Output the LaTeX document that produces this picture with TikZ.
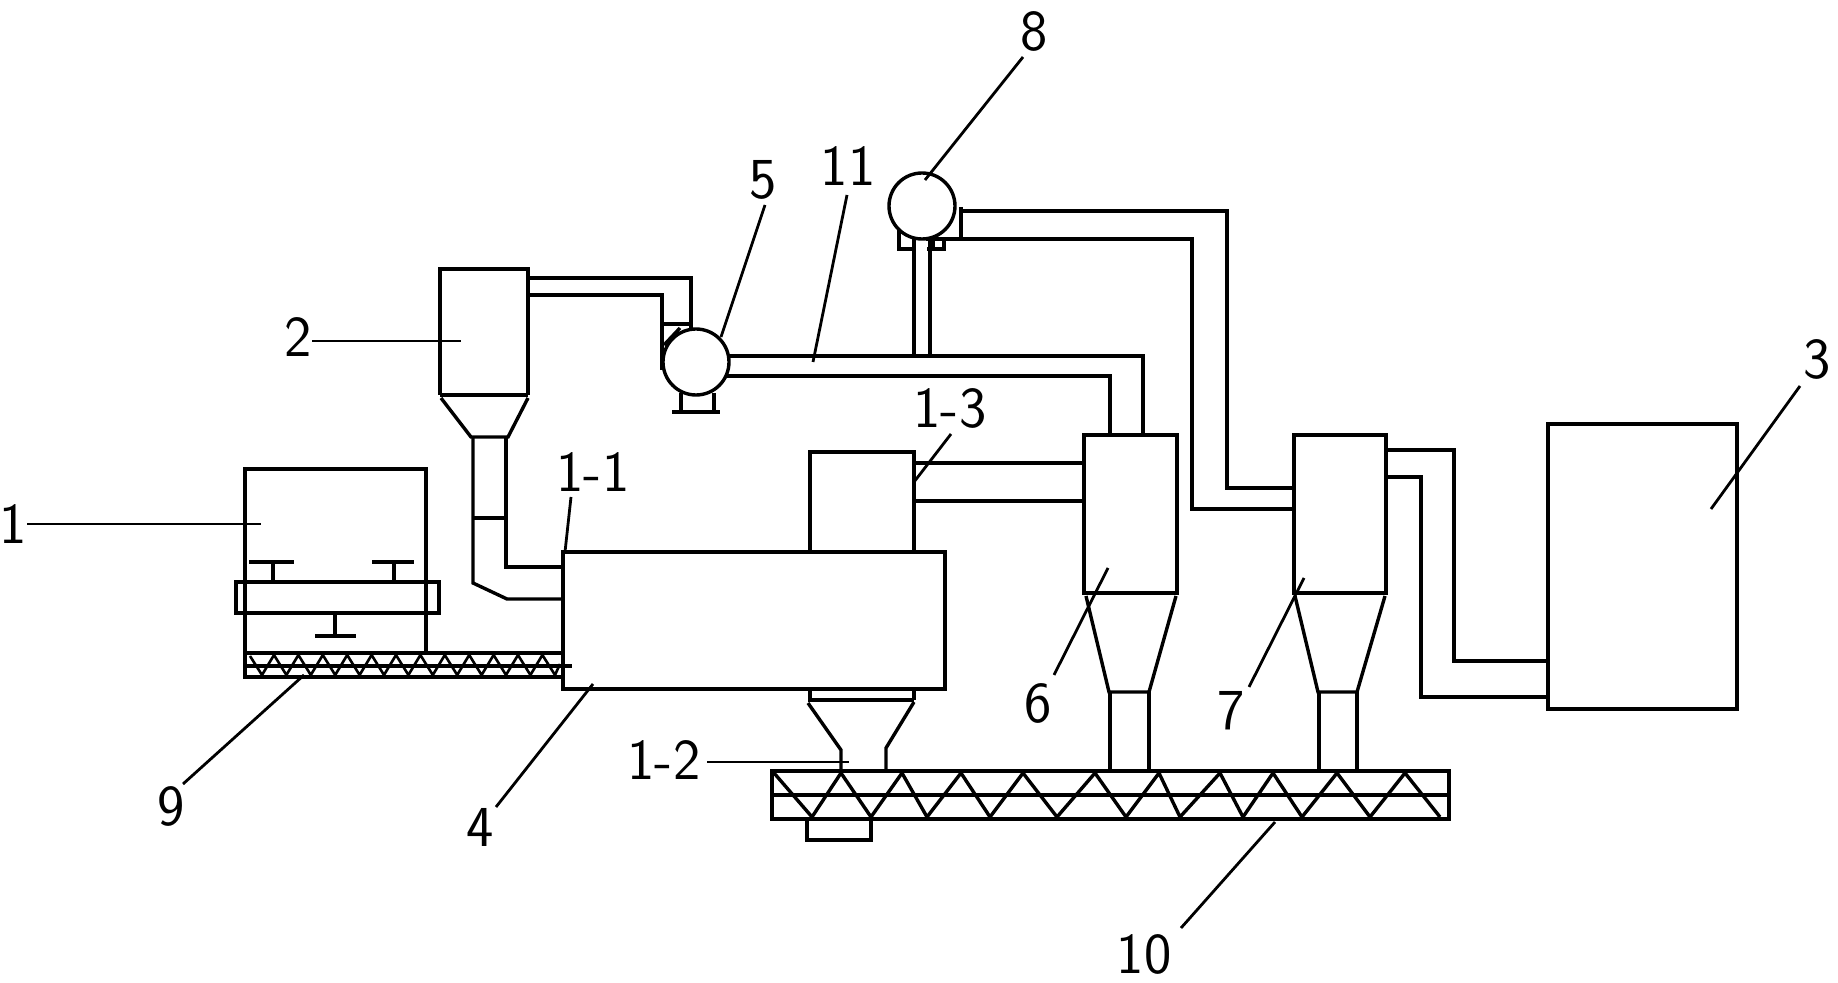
\documentclass[tikz,border=0pt]{standalone}
\usepackage{fontspec}
\tikzset{
  part/.style={draw=black,line width=1.7pt,line join=miter},
  leader/.style={draw=black,line width=1.4pt},
  thinzig/.style={draw=black,line width=1.3pt},
  tag/.style={inner sep=0pt,font=\sffamily\fontsize{29}{29}\selectfont\addfontfeatures{LetterSpace=6}},
  wtag/.style={inner sep=0pt,font=\sffamily\fontsize{29}{29}\selectfont\addfontfeatures{LetterSpace=16}},
}
\begin{document}
\begin{tikzpicture}[x=0.5pt,y=-0.5pt]
\useasboundingbox (0,0) rectangle (1838,983);
% unit 1: box, band, T marks
\draw[part] (245,653) -- (245,469) -- (426,469) -- (426,653);
\draw[part] (236,582) rectangle (439,613);
\draw[part] (249,562) -- (294,562) (273,562) -- (273,582);
\draw[part] (372,562) -- (414,562) (394,562) -- (394,582);
\draw[part] (315,636) -- (356,636) (335,613) -- (335,636);
% conveyor 9
\draw[part] (245,653) rectangle (563,677);
\draw[part] (245,666) -- (572,666);
\draw[thinzig] (250,656) \foreach \i in {0,1,...,11} { -- ({262+\i*24.4},675) -- ({274+\i*24.4},655) } -- (555,675) -- (560,664);
% unit 2
\draw[part] (440,395) -- (440,269) -- (528,269) -- (528,395);
\draw[part] (440,395) -- (528,395);
\draw[part] (441,398) -- (471,437) -- (508,437) -- (528,398);
\draw[part] (473,437) -- (473,583) -- (507,599) -- (563,599);
\draw[part] (506,437) -- (506,567) -- (563,567);
\draw[part] (473,518) -- (506,518);
% pipes to fan 5
\draw[part] (528,278) -- (691,278) -- (691,330);
\draw[part] (528,295) -- (662,295) -- (662,370);
\draw[part] (662,324) -- (691,324);
\draw[part] (664,345) -- (680,328);
% fan 5
\draw[part,fill=white] (696,362) circle [radius=33];
\draw[part] (681,393) -- (681,412) (714,393) -- (714,412);
\draw[part] (672,412) -- (720,412);
% pipes fan 5 to unit 6
\draw[part] (729,356) -- (1143,356) -- (1143,435);
\draw[part] (726,376) -- (1110,376) -- (1110,435);
% fan 8 riser
\draw[part] (914,356) -- (914,238) (930,356) -- (930,238);
\draw[part] (899,227) -- (899,249) -- (915,249);
\draw[part] (927,249) -- (944,249) -- (944,239);
\draw[part] (933,239) -- (933,249);
\draw[part,fill=white] (922,206) circle [radius=33];
% pipes fan 8 to unit 7
\draw[part] (961,207) -- (961,239);
\draw[part] (961,211) -- (1227,211) -- (1227,488) -- (1294,488);
\draw[part] (926,239) -- (1192,239) -- (1192,509) -- (1294,509);
% chamber 4
\draw[part] (563,552) rectangle (945,689);
\draw[part] (810,552) -- (810,452) -- (914,452) -- (914,552);
\draw[part] (810,689) -- (810,700) (914,689) -- (914,700);
\draw[part] (808,700) -- (914,700);
\draw[part] (808,703) -- (841,750) -- (841,771);
\draw[part] (914,702) -- (886,748) -- (886,771);
% pipes chamber to unit 6
\draw[part] (914,463) -- (1084,463);
\draw[part] (914,501) -- (1084,501);
% unit 6
\draw[part] (1084,435) rectangle (1177,593);
\draw[part] (1086,596) -- (1109,692) -- (1149,692) -- (1176,596);
\draw[part] (1110,692) -- (1110,771) (1149,692) -- (1149,771);
% unit 7
\draw[part] (1294,435) rectangle (1386,593);
\draw[part] (1295,596) -- (1318,692) -- (1357,692) -- (1385,596);
\draw[part] (1319,692) -- (1319,771) (1357,692) -- (1357,771);
% pipes to unit 3
\draw[part] (1386,450) -- (1454,450) -- (1454,661) -- (1548,661);
\draw[part] (1386,477) -- (1421,477) -- (1421,697) -- (1548,697);
% unit 3
\draw[part] (1548,424) rectangle (1737,709);
% conveyor 10
\draw[part] (772,771) rectangle (1449,819);
\draw[part] (772,795) -- (1449,795);
\draw[part] (807,819) -- (807,840) -- (871,840) -- (871,819);
\draw[part] (774,773) -- (812,817) -- (841,773) -- (871,817) -- (902,773) -- (927,817) -- (961,773) -- (990,817) -- (1023,773) -- (1057,817) -- (1095,773) -- (1126,817) -- (1159,773) -- (1180,817) -- (1220,773) -- (1243,817) -- (1273,773) -- (1302,817) -- (1337,773) -- (1370,817) -- (1405,773) -- (1440,817);
% labels
\node[tag] (t1) at (13,524) {1};
\node[tag] (t2) at (298,337) {2};
\node[tag] (t3) at (1817,359) {3};
\node[tag] (t4) at (480,827) {4};
\node[tag] (t5) at (763,180) {5};
\node[tag] (t6) at (1038,703) {6};
\node[tag] (t7) at (1231,711) {7};
\node[tag] (t8) at (1034,31) {8};
\node[tag] (t9) at (171,806) {9};
\node[tag] (t10) at (1144,954) {10};
\node[tag] (t11) at (848,166) {11};
\node[wtag] (t11a) at (593,472) {1-1};
\node[wtag] (t12) at (664,760) {1-2};
\node[wtag] (t13) at (950,408) {1-3};
% leader ends
\coordinate (a1) at (27,524);   \coordinate (b1) at (261,524);
\coordinate (a2) at (312,341);  \coordinate (b2) at (461,341);
\coordinate (a3) at (1800,386); \coordinate (b3) at (1711,509);
\coordinate (a4) at (496,807);  \coordinate (b4) at (593,684);
\coordinate (a5) at (765,205);  \coordinate (b5) at (721,337);
\coordinate (a6) at (1054,675); \coordinate (b6) at (1108,568);
\coordinate (a7) at (1249,687); \coordinate (b7) at (1304,578);
\coordinate (a8) at (1023,57);  \coordinate (b8) at (925,180);
\coordinate (a9) at (183,784);  \coordinate (b9) at (304,675);
\coordinate (a10) at (1181,928);\coordinate (b10) at (1275,822);
\coordinate (a11) at (847,195); \coordinate (b11) at (813,362);
\coordinate (a12) at (571,497); \coordinate (b12) at (565,552);
\coordinate (a13) at (707,762); \coordinate (b13) at (849,762);
\coordinate (a14) at (951,434); \coordinate (b14) at (914,482);
\foreach \i in {1,...,14} { \draw[leader] (a\i) -- (b\i); }
\end{tikzpicture}
\end{document}
